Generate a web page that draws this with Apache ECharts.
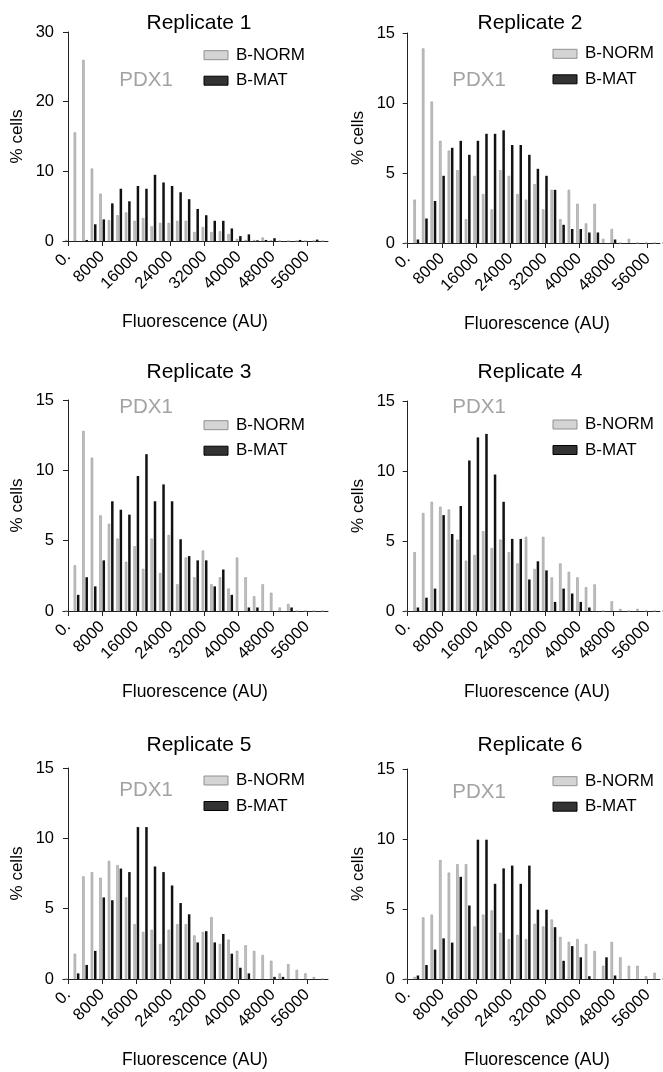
<!DOCTYPE html>
<html lang="en" style="height: 100%">

<head>
  <meta charset="utf-8" />
</head>

<body style="height: 100%; margin: 0; background: #fff">
  <div id="container" style="width: 663px; height: 1072px;"></div>

  <script type="text/javascript" src="https://cdn.jsdelivr.net/npm/echarts@6/dist/echarts.min.js"></script>

  <script type="text/javascript">
    // bin centres, Fluorescence (AU), bins 2000 wide
    var bins = [0, 2000, 4000, 6000, 8000, 10000, 12000, 14000, 16000, 18000,
      20000, 22000, 24000, 26000, 28000, 30000, 32000, 34000, 36000, 38000,
      40000, 42000, 44000, 46000, 48000, 50000, 52000, 54000, 56000, 58000, 60000];
    var xTicks = [0, 8000, 16000, 24000, 32000, 40000, 48000, 56000];

    // % cells per bin, B-NORM (grey) and B-MAT (black)
    var rep1Norm = [0.15, 15.6, 26.0, 10.4, 6.8, 3.0, 3.7, 4.1, 2.9, 3.3, 2.1, 2.6, 2.6, 2.9, 2.9, 1.3, 2.0, 1.3, 1.4, 1.0, 0.3, 0.15, 0.15, 0.5, 0.1, 0, 0, 0, 0, 0, 0];
    var rep1Mat = [0, 0, 0.15, 2.4, 3.1, 5.4, 7.5, 5.7, 7.9, 7.5, 9.5, 8.4, 7.9, 7.0, 6.0, 4.6, 3.7, 2.9, 2.9, 1.8, 0.7, 0.95, 0.1, 0.15, 0.4, 0, 0, 0.15, 0, 0.2, 0];
    var rep2Norm = [0, 3.1, 13.9, 10.1, 7.3, 6.6, 5.2, 1.7, 4.8, 3.5, 2.4, 5.2, 4.8, 3.5, 3.1, 4.2, 2.4, 3.8, 1.7, 3.8, 2.8, 1.4, 2.8, 0.3, 1.0, 0, 0.3, 0, 0, 0, 0];
    var rep2Mat = [0, 0.25, 1.75, 3.0, 4.8, 6.8, 7.3, 6.3, 7.3, 7.8, 7.8, 8.05, 7.0, 7.0, 6.3, 5.3, 4.8, 3.8, 1.3, 1.0, 1.0, 0.75, 0.75, 0, 0.25, 0, 0, 0, 0, 0, 0];
    var rep3Norm = [0, 3.25, 12.8, 10.9, 6.8, 6.2, 5.15, 3.5, 4.6, 3.0, 5.15, 2.7, 5.4, 1.9, 3.8, 2.4, 4.3, 1.9, 2.4, 1.6, 3.8, 2.4, 1.05, 1.9, 1.3, 0.25, 0.5, 0, 0, 0, 0];
    var rep3Mat = [0, 1.15, 2.4, 1.75, 3.6, 7.8, 7.2, 6.85, 9.6, 11.15, 7.8, 9.0, 7.8, 5.1, 3.9, 3.6, 3.6, 1.75, 2.95, 1.15, 0, 0.25, 0.25, 0, 0, 0, 0.25, 0, 0, 0, 0];
    var rep4Norm = [0, 4.2, 7.0, 7.8, 7.45, 7.25, 5.1, 3.6, 4.0, 5.7, 4.5, 5.1, 4.2, 3.4, 5.3, 3.0, 5.3, 2.4, 3.4, 2.8, 2.4, 1.7, 1.9, 0, 0.7, 0.15, 0, 0.15, 0, 0, 0];
    var rep4Mat = [0, 0.25, 0.95, 1.6, 6.85, 5.5, 7.5, 10.75, 12.4, 12.65, 9.75, 7.8, 5.15, 5.15, 2.25, 3.55, 2.9, 0.65, 1.6, 1.25, 0.65, 0.25, 0, 0, 0, 0, 0, 0, 0, 0, 0];
    var rep5Norm = [0, 1.8, 7.3, 7.6, 7.2, 8.4, 8.1, 5.8, 3.9, 3.35, 3.5, 2.5, 3.5, 3.9, 3.9, 3.1, 3.35, 4.4, 2.5, 2.8, 2.0, 2.4, 2.0, 1.7, 1.3, 0.4, 1.05, 0.65, 0.4, 0.15, 0];
    var rep5Mat = [0, 0.4, 1.0, 2.0, 5.8, 5.6, 7.85, 7.6, 10.8, 10.8, 8.0, 7.6, 6.65, 5.4, 4.6, 2.6, 3.4, 2.6, 3.2, 1.8, 0.8, 0.4, 0, 0, 0.15, 0.15, 0, 0, 0, 0, 0];
    var rep6Norm = [0, 0.15, 4.4, 4.6, 8.5, 7.6, 8.2, 8.2, 3.75, 4.6, 4.9, 3.3, 2.85, 3.15, 2.85, 3.95, 3.75, 4.25, 3.0, 2.65, 2.85, 2.5, 2.0, 0.95, 2.65, 1.55, 0.95, 0.95, 0.2, 0.45, 0];
    var rep6Mat = [0, 0.25, 1.0, 2.1, 2.9, 2.6, 7.3, 5.25, 9.95, 9.95, 6.8, 7.9, 8.1, 6.8, 8.1, 4.95, 4.95, 3.7, 1.3, 2.35, 1.55, 0.2, 0, 1.55, 0.25, 0, 0, 0, 0, 0, 0];

    var font = "'Liberation Sans', Arial, sans-serif";

    // 面板布局
    var panels = [
      { title: 'Replicate 1', norm: rep1Norm, mat: rep1Mat, yMax: 30, yStep: 10, left: 63, top: 32, height: 209, width: 265, xMin: -1170, xMax: 60920, titleY: 23, pdxY: 80, legendTop: 43.7 },
      { title: 'Replicate 2', norm: rep2Norm, mat: rep2Mat, yMax: 15, yStep: 5, left: 404, top: 33, height: 210, width: 256, xMin: -860, xMax: 58870, titleY: 23, pdxY: 80, legendTop: 42.3 },
      { title: 'Replicate 3', norm: rep3Norm, mat: rep3Mat, yMax: 15, yStep: 5, left: 63, top: 400, height: 211, width: 265, xMin: -1170, xMax: 60920, titleY: 372, pdxY: 407, legendTop: 413.7 },
      { title: 'Replicate 4', norm: rep4Norm, mat: rep4Mat, yMax: 15, yStep: 5, left: 404, top: 401, height: 210, width: 256, xMin: -860, xMax: 58870, titleY: 372, pdxY: 407, legendTop: 413 },
      { title: 'Replicate 5', norm: rep5Norm, mat: rep5Mat, yMax: 15, yStep: 5, left: 63, top: 768, height: 211, width: 265, xMin: -1170, xMax: 60920, titleY: 745, pdxY: 790, legendTop: 769 },
      { title: 'Replicate 6', norm: rep6Norm, mat: rep6Mat, yMax: 15, yStep: 5, left: 404, top: 769, height: 210, width: 256, xMin: -860, xMax: 58870, titleY: 745, pdxY: 792, legendTop: 769.7 }
    ];

    var dom = document.getElementById("container");
    var myChart = echarts.init(dom, null, { renderer: "canvas" });

    var grid = [], xAxis = [], yAxis = [], series = [], legend = [], graphic = [];

    panels.forEach(function (p, i) {
      var isLeft = i % 2 === 0;
      var cx = isLeft ? 199 : 530;
      grid.push({ left: p.left, top: p.top, width: p.width, height: p.height, outerBoundsMode: 'none' });
      xAxis.push({
        type: 'value', gridIndex: i, min: p.xMin, max: p.xMax,
        splitLine: { show: false },
        axisLine: { show: true, onZero: false, lineStyle: { color: '#222', width: 1 } },
        axisTick: { show: true, length: 5, customValues: xTicks, lineStyle: { color: '#222' } },
        axisLabel: {
          customValues: xTicks, rotate: 45, margin: 13, color: '#000', fontSize: 16.5, fontFamily: font,
          formatter: function (v) { return v === 0 ? '0.' : String(v); }
        }
      });
      yAxis.push({
        type: 'value', gridIndex: i, min: 0, max: p.yMax, interval: p.yStep,
        splitLine: { show: false },
        axisLine: { show: true, lineStyle: { color: '#222', width: 1 } },
        axisTick: { show: true, length: 5, lineStyle: { color: '#222' } },
        axisLabel: { margin: 9, color: '#000', fontSize: 16.5, fontFamily: font }
      });
      series.push({
        name: 'B-NORM', type: 'bar', xAxisIndex: i, yAxisIndex: i,
        barWidth: 2.5, barGap: '32%',
        itemStyle: { color: '#c2c2c2', borderColor: '#979797', borderWidth: 0.6 },
        data: bins.map(function (b, j) { return [b, p.norm[j]]; })
      });
      series.push({
        name: 'B-MAT', type: 'bar', xAxisIndex: i, yAxisIndex: i,
        barWidth: 2.5, barGap: '32%',
        itemStyle: { color: '#111' },
        data: bins.map(function (b, j) { return [b, p.mat[j]]; })
      });
      legend.push({
        orient: 'vertical', left: isLeft ? 203.5 : 552.5, top: p.legendTop, padding: 0,
        itemWidth: 24, itemHeight: 9, itemGap: 2.5, icon: 'rect', selectedMode: false,
        textStyle: { fontSize: 17, lineHeight: 17, color: '#000', fontFamily: font, padding: [6, 0, 0, 3] },
        data: [
          { name: 'B-NORM', itemStyle: { color: '#d4d4d4', borderColor: '#909090', borderWidth: 1 } },
          { name: 'B-MAT', itemStyle: { color: '#333', borderColor: '#000', borderWidth: 1 } }
        ]
      });
      graphic.push({
        type: 'text', x: cx, y: p.titleY,
        style: { text: p.title, fill: '#000', font: '21px ' + font, textAlign: 'center', textVerticalAlign: 'middle', align: 'center', verticalAlign: 'middle' }
      });
      graphic.push({
        type: 'text', x: isLeft ? 146 : 479, y: p.pdxY,
        style: { text: 'PDX1', fill: '#a3a3a3', font: '20.5px ' + font, textAlign: 'center', textVerticalAlign: 'middle', align: 'center', verticalAlign: 'middle' }
      });
      graphic.push({
        type: 'text', x: isLeft ? 17 : 358, y: p.top + p.height / 2, rotation: Math.PI / 2,
        style: { text: '% cells', fill: '#000', font: '17px ' + font, textAlign: 'center', textVerticalAlign: 'middle', align: 'center', verticalAlign: 'middle' }
      });
      graphic.push({
        type: 'text', x: isLeft ? 195 : 537, y: p.top + p.height + 81,
        style: { text: 'Fluorescence (AU)', fill: '#000', font: '17.5px ' + font, textAlign: 'center', textVerticalAlign: 'middle', align: 'center', verticalAlign: 'middle' }
      });
    });

    var option = {
      animation: false,
      backgroundColor: '#fff',
      textStyle: { fontFamily: font },
      grid: grid,
      xAxis: xAxis,
      yAxis: yAxis,
      legend: legend,
      graphic: graphic,
      series: series
    };

    if (option && typeof option === "object") {
      myChart.setOption(option);
    }
    window.addEventListener("resize", myChart.resize);
  </script>
</body>

</html>
